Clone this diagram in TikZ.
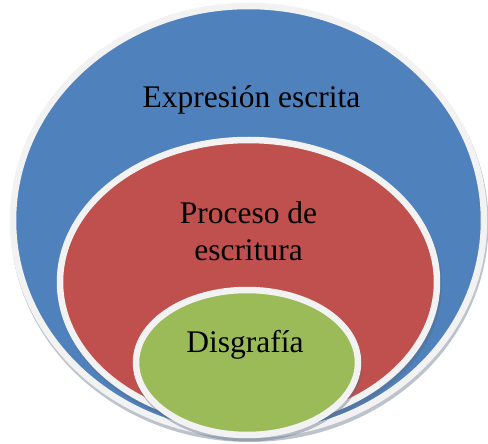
\documentclass[tikz,border=0pt]{standalone}
\usepackage{fontspec}
\setmainfont{Liberation Serif}
\usetikzlibrary{shapes.geometric}
\definecolor{cblue}{HTML}{4F81BD}
\definecolor{cred}{HTML}{C0504D}
\definecolor{cgreen}{HTML}{9BBB59}
\definecolor{cedge}{HTML}{F2F2F2}
\definecolor{cshadow}{HTML}{5A6A80}
\tikzset{
  ring/.style={ellipse, draw=cedge, line width=6.5pt, inner sep=0pt},
  ringshadow/.style={ellipse, fill=cshadow, fill opacity=0.4, draw=none, inner sep=0pt},
  lbl/.style={font=\rmfamily\fontsize{31.5}{37}\selectfont, text=black, inner sep=0pt, align=center}
}
\begin{document}
\begin{tikzpicture}[x=1pt,y=-1pt]
\useasboundingbox (0,0) rectangle (488,444);
% outer
\node[ringshadow, minimum width=478pt, minimum height=437pt] at (249.5,223.5) {};
\node[ring, fill=cblue, minimum width=471pt, minimum height=429pt] (outer) at (248.5,220.5) {};
% middle
\node[ringshadow, minimum width=384pt, minimum height=292pt] at (250,285) {};
\node[ring, fill=cred, minimum width=377pt, minimum height=284pt] (middle) at (248.5,282) {};
% inner
\node[ringshadow, minimum width=229pt, minimum height=153pt] at (248,365) {};
\node[ring, fill=cgreen, minimum width=222pt, minimum height=145pt] (inner) at (247,362.5) {};
% labels
\node[lbl, anchor=base] (t1) at (251.5,108) {Expresión escrita};
\node[lbl, anchor=center] (t2) at (248.5,231) {Proceso de\\escritura};
\node[lbl, anchor=base] (t3) at (245,352) {Disgrafía};
\end{tikzpicture}
\end{document}
